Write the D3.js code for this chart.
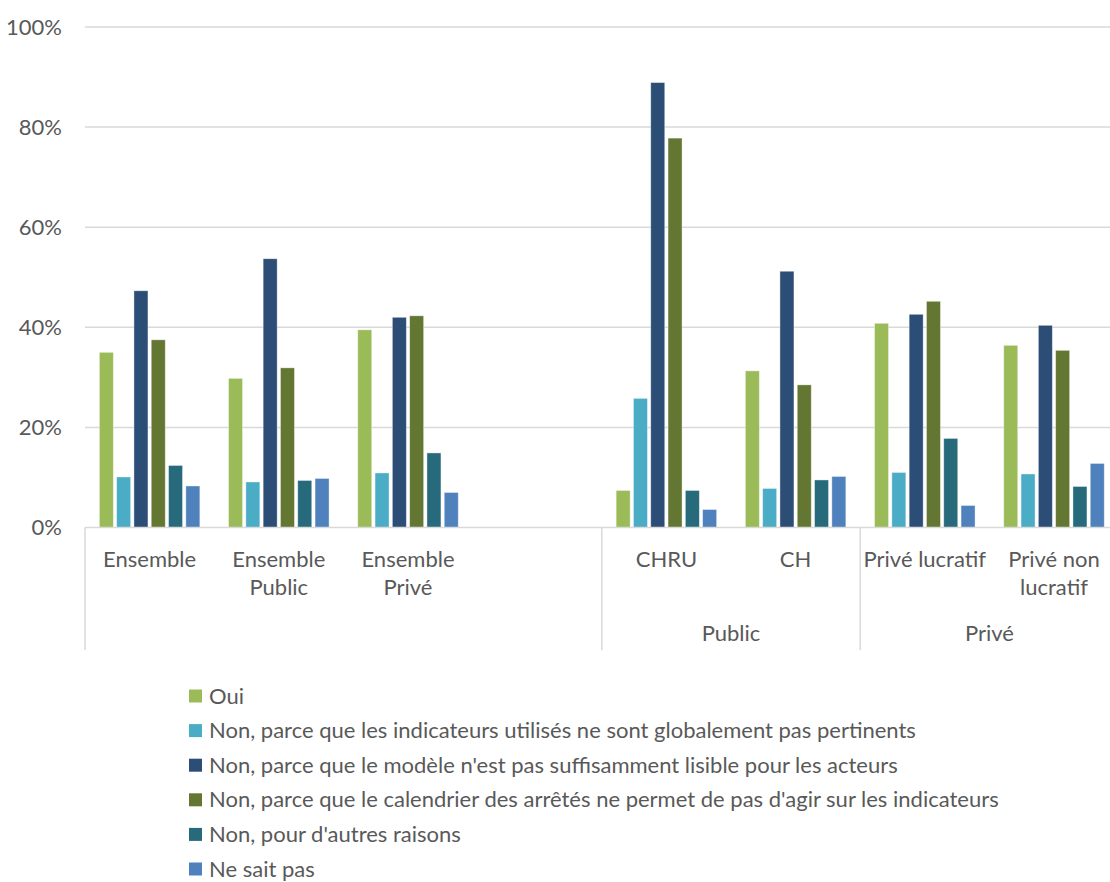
<!DOCTYPE html>
<html><head><meta charset="utf-8">
<script src="https://cdn.jsdelivr.net/npm/d3@7"></script>
<style>
html,body{margin:0;padding:0;background:#fff;}
svg{display:block;font-family:Lato,"Noto Sans",sans-serif;}
</style></head>
<body>
<script>
// ---- data ----
const categories = ["Ensemble","Ensemble Public","Ensemble Privé","","CHRU","CH","Privé lucratif","Privé non lucratif"];
const categoryLines = [["Ensemble"],["Ensemble","Public"],["Ensemble","Privé"],[],["CHRU"],["CH"],["Privé lucratif"],["Privé non","lucratif"]];
const groups = [{label:"", from:0, to:3},{label:"Public", from:4, to:5},{label:"Privé", from:6, to:7}];
const seriesNames = [
  "Oui",
  "Non, parce que les indicateurs utilisés ne sont globalement pas pertinents",
  "Non, parce que le modèle n'est pas suffisamment lisible pour les acteurs",
  "Non, parce que le calendrier des arrêtés ne permet de pas d'agir sur les indicateurs",
  "Non, pour d'autres raisons",
  "Ne sait pas"
];
const oui          = [35.0, 29.8, 39.5, null, 7.4, 31.3, 40.8, 36.4];
const nonIndic     = [10.1,  9.1, 10.9, null, 25.8, 7.8, 11.0, 10.7];
const nonModele    = [47.3, 53.7, 42.0, null, 88.9, 51.2, 42.6, 40.4];
const nonCalend    = [37.5, 31.9, 42.3, null, 77.8, 28.5, 45.2, 35.4];
const nonAutres    = [12.4,  9.4, 14.9, null, 7.4, 9.5, 17.8, 8.2];
const neSaitPas    = [ 8.3,  9.8,  7.0, null, 3.6, 10.2, 4.4, 12.8];
const seriesValues = [oui, nonIndic, nonModele, nonCalend, nonAutres, neSaitPas];
const colors = ["#9BBB59","#4BACC6","#2C4D75","#637632","#276A7C","#4F81BD"];
const yTicks = [0,20,40,60,80,100];

(function(){
// ---- layout ----
const W = 1110, H = 882;
const pLeft = 85, pRight = 1118.6, pTop = 27, pBottom = 527.5;
const FS = 22;
const svg = d3.select("body").append("svg").attr("width",W).attr("height",H);
const textColor = "#595959";

const x0 = d3.scaleBand().domain(d3.range(categories.length)).range([pLeft,pRight]).padding(0);
const bw = x0.bandwidth();
const x1 = d3.scaleBand().domain(d3.range(seriesNames.length))
  .range([bw*0.111, bw*0.889]).paddingInner(0.19).paddingOuter(0);
const y = d3.scaleLinear().domain([0,100]).range([pBottom, pTop]);

// gridlines
svg.append("g").selectAll("line").data(yTicks.filter(d=>d>0)).join("line")
  .attr("x1",pLeft).attr("x2",W).attr("y1",d=>y(d)).attr("y2",d=>y(d))
  .attr("stroke","#d9d9d9").attr("stroke-width",1.5);

// y axis labels
const yAxis = d3.axisLeft(y).tickValues(yTicks).tickFormat(d=>d+"%").tickSize(0).tickPadding(0);
const ya = svg.append("g").attr("transform",`translate(${62},0)`).call(yAxis);
ya.select(".domain").remove();
ya.selectAll("text").attr("fill",textColor).attr("font-size",FS).attr("font-family","Lato,'Noto Sans',sans-serif");

// bars
const rows = [];
categories.forEach((c,i)=>seriesValues.forEach((s,j)=>{ if(s[i]!=null) rows.push({i,j,v:s[i]}); }));
svg.append("g").selectAll("rect").data(rows).join("rect")
  .attr("x",d=>x0(d.i)+x1(d.j)).attr("width",x1.bandwidth())
  .attr("y",d=>y(d.v)).attr("height",d=>pBottom-y(d.v))
  .attr("fill",d=>colors[d.j])
  .attr("stroke","#ffffff").attr("stroke-opacity",0.5).attr("stroke-width",0.8);

// baseline
svg.append("line").attr("x1",pLeft).attr("x2",W).attr("y1",pBottom).attr("y2",pBottom)
  .attr("stroke","#d9d9d9").attr("stroke-width",1.5);

// group separators
const sepX = [x0(0), x0(4), x0(6)];
svg.append("g").selectAll("line").data(sepX).join("line")
  .attr("x1",d=>d).attr("x2",d=>d).attr("y1",pBottom).attr("y2",650)
  .attr("stroke","#d9d9d9").attr("stroke-width",1.5);

// category labels
const catG = svg.append("g").attr("font-size",FS).attr("fill",textColor).attr("text-anchor","middle");
categoryLines.forEach((lines,i)=>{
  lines.forEach((t,k)=>{
    catG.append("text").attr("x",x0(i)+bw/2).attr("y",566.5+k*28.5).text(t);
  });
});
// group labels
groups.forEach(g=>{
  if(!g.label) return;
  const cx = (x0(g.from)+x0(g.to)+bw)/2;
  catG.append("text").attr("x",cx).attr("y",641).text(g.label);
});

// legend
const lg = svg.append("g").attr("font-size",FS).attr("fill",textColor);
seriesNames.forEach((n,j)=>{
  const yy = 696.5 + j*34.6;
  lg.append("rect").attr("x",189).attr("y",yy-7).attr("width",13).attr("height",13).attr("fill",colors[j]);
  lg.append("text").attr("x",209).attr("y",yy+7).text(n);
});
})();
</script>
</body></html>
